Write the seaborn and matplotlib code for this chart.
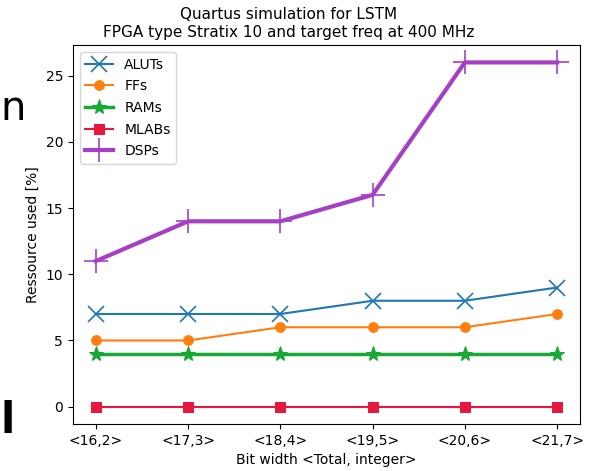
import matplotlib
matplotlib.use("Agg")
import matplotlib.pyplot as plt
import seaborn as sns
import pandas as pd

# Bit widths <total, integer> swept in the synthesis runs
bit_widths = ["<16,2>", "<17,3>", "<18,4>", "<19,5>", "<20,6>", "<21,7>"]

# Resource usage in percent of the device
aluts = [7, 7, 7, 8, 8, 9]
ffs = [5, 5, 6, 6, 6, 7]
rams = [4, 4, 4, 4, 4, 4]
mlabs = [0, 0, 0, 0, 0, 0]
dsps = [11, 14, 14, 16, 26, 26]

series = [
    ("ALUTs", aluts, dict(color="#1f77b4", marker="x", markersize=11, linewidth=1.5, mew=1.2)),
    ("FFs", ffs, dict(color="#ff7f0e", marker="o", markersize=7, linewidth=1.5)),
    ("RAMs", rams, dict(color="#17a835", marker="*", markersize=11, linewidth=2.5)),
    ("MLABs", mlabs, dict(color="#e8173f", marker="s", markersize=6.5, linewidth=1.5)),
    ("DSPs", dsps, dict(color="#a63ec6", marker="+", markersize=17, linewidth=3, mew=1.2)),
]

fig = plt.figure(figsize=(5.92, 4.71), dpi=100)
ax = fig.add_axes([0.123, 0.10, 0.857, 0.804])

for name, values, style in series:
    df = pd.DataFrame({"width": bit_widths, "used": values})
    sns.lineplot(data=df, x="width", y="used", ax=ax, label=name,
                 markeredgecolor=style["color"], **style)

ax.set_title("Quartus simulation for LSTM\nFPGA type Stratix 10 and target freq at 400 MHz",
             fontsize=11, x=0.425)
ax.set_xlabel("Bit width <Total, integer>", fontsize=10)
ax.set_ylabel("Ressource used [%]", fontsize=10)
ax.set_yticks([0, 5, 10, 15, 20, 25])
ax.tick_params(labelsize=10)
ax.legend(loc="upper left", fontsize=10, labelspacing=0.55)

# Fragments of neighbouring text at the left edge
fig.text(0.0, 0.745, "n", fontsize=29, color="black", ha="left", va="baseline")
fig.text(0.0, 0.08, "l", fontsize=30, color="black", ha="left", va="baseline",
         fontweight="bold")

fig.savefig("out.png", dpi=100)
